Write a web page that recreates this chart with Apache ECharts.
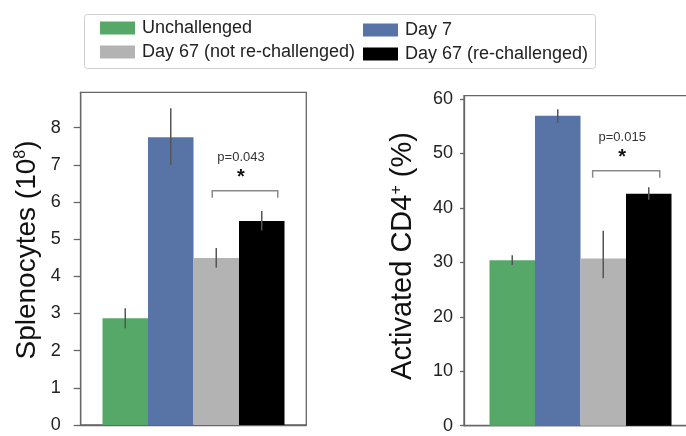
<!DOCTYPE html>
<html>
<head>
<meta charset="utf-8">
<script src="https://cdn.jsdelivr.net/npm/echarts@6/dist/echarts.min.js"></script>
<style>
  html, body { margin: 0; padding: 0; background: #fff; }
  #chart { width: 686px; height: 436px; }
</style>
</head>
<body>
<div id="chart"></div>
<script>
// Groups shown in both panels
const groupNames = ['Unchallenged', 'Day 7', 'Day 67 (not re-challenged)', 'Day 67 (re-challenged)'];
const groupColors = ['#55a868', '#5874a6', '#b3b3b3', '#000000'];

// Splenocyte counts (10^8): mean and error-bar ends
const splenoMean = [2.87, 7.74, 4.49, 5.49];
const splenoLow  = [2.60, 7.00, 4.23, 5.23];
const splenoHigh = [3.14, 8.52, 4.76, 5.76];

// Activated CD4+ cells (%): mean and error-bar ends
const cd4Mean = [30.4, 56.9, 30.7, 42.6];
const cd4Low  = [29.5, 55.6, 27.1, 41.5];
const cd4High = [31.3, 58.1, 35.8, 43.8];

// Tick labels on the value axes
const splenoTicks = [0, 1, 2, 3, 4, 5, 6, 7, 8];
const cd4Ticks = [0, 10, 20, 30, 40, 50, 60];

// Significance annotations (comparison of the two Day 67 groups)
const splenoP = 'p=0.043';
const cd4P = 'p=0.015';
const splenoBracketLevel = 6.3;
const cd4BracketLevel = 46.8;

const FONT = '"Liberation Sans", Arial, Helvetica, sans-serif';
const BAR_W = 45.5;

const chart = echarts.init(document.getElementById('chart'));

function barSeries(gridIdx, values) {
  return values.map((v, i) => ({
    name: groupNames[i],
    type: 'bar',
    xAxisIndex: gridIdx,
    yAxisIndex: gridIdx,
    barWidth: BAR_W,
    barGap: '0%',
    itemStyle: { color: groupColors[i] },
    emphasis: { disabled: true },
    data: [v],
    z: 2
  }));
}

function errorSeries(gridIdx, low, high) {
  return {
    type: 'custom',
    xAxisIndex: gridIdx,
    yAxisIndex: gridIdx,
    silent: true,
    z: 5,
    data: low.map((l, i) => [0, l, high[i], i]),
    renderItem: function (params, api) {
      const lo = api.coord([0, api.value(1)]);
      const hi = api.coord([0, api.value(2)]);
      const x = lo[0] + (api.value(3) - 1.5) * BAR_W;
      return {
        type: 'line',
        shape: { x1: x, y1: lo[1], x2: x, y2: hi[1] },
        style: { stroke: '#555', lineWidth: 1.5 }
      };
    }
  };
}

function bracketSeries(gridIdx, level, pText, leftOff, rightOff) {
  return {
    type: 'custom',
    xAxisIndex: gridIdx,
    yAxisIndex: gridIdx,
    silent: true,
    z: 6,
    data: [[0, level]],
    renderItem: function (params, api) {
      const c = api.coord([0, api.value(1)]);
      const xl = c[0] + 0.5 * BAR_W + leftOff;
      const xr = c[0] + 1.5 * BAR_W + rightOff;
      const y = c[1];
      const mid = (xl + xr) / 2;
      return {
        type: 'group',
        children: [
          {
            type: 'polyline',
            shape: { points: [[xl, y + 7], [xl, y], [xr, y], [xr, y + 7]] },
            style: { stroke: '#8a8a8a', lineWidth: 1.5, fill: null }
          },
          {
            type: 'text',
            style: {
              x: mid - 4, y: y - 13, text: '*', align: 'center', verticalAlign: 'middle',
              font: 'bold 20px ' + FONT, fill: '#111'
            }
          },
          {
            type: 'text',
            style: {
              x: mid - 4, y: y - 33, text: pText, align: 'center', verticalAlign: 'middle',
              font: '13px ' + FONT, fill: '#333'
            }
          }
        ]
      };
    }
  };
}

function yAxis(gridIdx, max, interval, ticks, tickLen, labelMargin) {
  return {
    type: 'value',
    gridIndex: gridIdx,
    min: 0,
    max: max,
    interval: interval,
    splitLine: { show: false },
    axisLine: { show: true, lineStyle: { color: '#666', width: 1.3 } },
    axisTick: { show: true, length: tickLen, customValues: ticks, lineStyle: { color: '#666', width: 1.3 } },
    axisLabel: {
      customValues: ticks, margin: labelMargin,
      fontSize: 18, color: '#222', fontFamily: FONT
    }
  };
}

function xAxis(gridIdx) {
  return {
    type: 'category',
    gridIndex: gridIdx,
    data: [''],
    axisLine: { show: true, lineStyle: { color: '#666', width: 1.3 } },
    axisTick: { show: false },
    axisLabel: { show: false }
  };
}

const titleRich = { sup: { fontSize: 16, fontFamily: FONT, fill: '#111', verticalAlign: 'top', padding: [0, 0, 10, 0] } };

chart.setOption({
  backgroundColor: '#fff',
  animation: false,
  legend: [
    {
      data: [groupNames[0], groupNames[2]],
      orient: 'vertical', left: 95, top: 14,
      itemWidth: 35, itemHeight: 13, itemGap: 6,
      icon: 'rect', selectedMode: false,
      textStyle: { fontSize: 18, color: '#222', fontFamily: FONT, padding: [0, 0, 0, 2] }
    },
    {
      data: [groupNames[1], groupNames[3]],
      orient: 'vertical', left: 358, top: 16,
      itemWidth: 35, itemHeight: 13, itemGap: 6,
      icon: 'rect', selectedMode: false,
      textStyle: { fontSize: 18, color: '#222', fontFamily: FONT, padding: [0, 0, 0, 2] }
    }
  ],
  grid: [
    { left: 80.7, top: 92.3, width: 225.6, height: 332.7, show: true, borderColor: '#666', borderWidth: 1.3, outerBoundsMode: 'none' },
    { left: 464, top: 95.7, width: 233, height: 330, show: true, borderColor: '#666', borderWidth: 1.3, outerBoundsMode: 'none' }
  ],
  xAxis: [xAxis(0), xAxis(1)],
  yAxis: [
    yAxis(0, 8.95, 1, splenoTicks, 7, 20),
    yAxis(1, 60.6, 10, cd4Ticks, 4, 11)
  ],
  graphic: [
    {
      type: 'rect', left: 82, top: 12,
      shape: { width: 511, height: 54, r: 3 },
      style: { fill: 'none', stroke: '#cfcfcf', lineWidth: 1 }
    },
    {
      type: 'text', x: 27, y: 250, rotation: Math.PI / 2,
      style: {
        text: 'Splenocytes (10{sup|8})', rich: titleRich,
        font: '28px ' + FONT, fill: '#111', align: 'center', verticalAlign: 'middle'
      }
    },
    {
      type: 'text', x: 403, y: 256, rotation: Math.PI / 2,
      style: {
        text: 'Activated CD4{sup|+} (%)', rich: titleRich,
        font: '29px ' + FONT, fill: '#111', align: 'center', verticalAlign: 'middle'
      }
    }
  ],
  series: [
    ...barSeries(0, splenoMean),
    ...barSeries(1, cd4Mean),
    errorSeries(0, splenoLow, splenoHigh),
    errorSeries(1, cd4Low, cd4High),
    bracketSeries(0, splenoBracketLevel, splenoP, -4, 16),
    bracketSeries(1, cd4BracketLevel, cd4P, -10.6, 11)
  ]
});
</script>
</body>
</html>
